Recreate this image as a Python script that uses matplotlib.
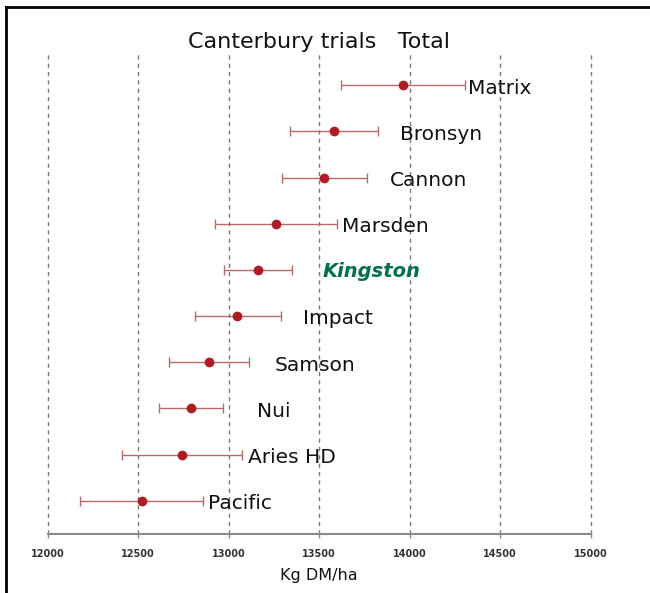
import matplotlib
matplotlib.use("Agg")
import matplotlib.pyplot as plt
from matplotlib.lines import Line2D

# Data (bottom to top)
cultivars = ["Pacific", "Aries HD", "Nui", "Samson", "Impact",
             "Kingston", "Marsden", "Cannon", "Bronsyn", "Matrix"]
means = [12522, 12745, 12791, 12892, 13049, 13161, 13262, 13529, 13585, 13964]
lower = [12181, 12412, 12614, 12673, 12813, 12974, 12925, 13294, 13340, 13622]
upper = [12861, 13075, 12968, 13112, 13290, 13351, 13598, 13767, 13827, 14307]
label_x = [12887, 13108, 13157, 13257, 13412, 13522, 13627, 13892, 13948, 14323]
xticks = [12000, 12500, 13000, 13500, 14000, 14500, 15000]
highlight = "Kingston"

fig = plt.figure(figsize=(6.5, 5.93), dpi=100)
ax = fig.add_axes([0.0731, 0.0995, 0.8354, 0.8128])

ypos = list(range(1, len(cultivars) + 1))

for x in xticks:
    ax.axvline(x, color="#7a7a7a", linestyle=(0, (3, 3)), linewidth=1.0,
               zorder=0, clip_on=False)

err_lo = [m - l for m, l in zip(means, lower)]
err_hi = [u - m for m, u in zip(means, upper)]
ax.errorbar(means, ypos, xerr=[err_lo, err_hi], fmt="none",
            ecolor="#b86a6a", elinewidth=1.0, capsize=3.5, capthick=1.0, zorder=2)
ax.plot(means, ypos, "o", color="#b01c22", markersize=6, zorder=3)

for name, lx, y in zip(cultivars, label_x, ypos):
    if name == highlight:
        ax.text(lx, y - 0.03, name, ha="left", va="center", fontsize=14,
                fontweight="bold", fontstyle="italic", color="#00704f")
    else:
        ax.text(lx, y - 0.06, name, ha="left", va="center", fontsize=14.5, color="#111111")

ax.set_xlim(12000, 15000)
ax.set_ylim(0.28, 10.72)
ax.set_yticks([])
for s in ["top", "right", "left"]:
    ax.spines[s].set_visible(False)
ax.spines["bottom"].set_color("#8a8a8a")
ax.spines["bottom"].set_linewidth(1.5)
ax.spines["bottom"].set_bounds(12000, 15000)
ax.set_xticks(xticks)
ax.set_xticklabels([str(t) for t in xticks], fontsize=7, fontweight="bold", color="#333333")
ax.tick_params(axis="x", direction="out", length=3, width=1, color="#8a8a8a", pad=8)
ax.set_xlabel("Kg DM/ha", fontsize=11.5, color="#111111", labelpad=6)
ax.set_title("Canterbury trials   Total", fontsize=16, color="#111111", pad=1)

# frame lines (left and top)
fig.add_artist(Line2D([6/650, 6/650], [0, 1 - 7/593], transform=fig.transFigure,
                      color="black", linewidth=2))
fig.add_artist(Line2D([6/650, 1], [1 - 7/593, 1 - 7/593], transform=fig.transFigure,
                      color="black", linewidth=2))

fig.savefig("out.png", dpi=100)
